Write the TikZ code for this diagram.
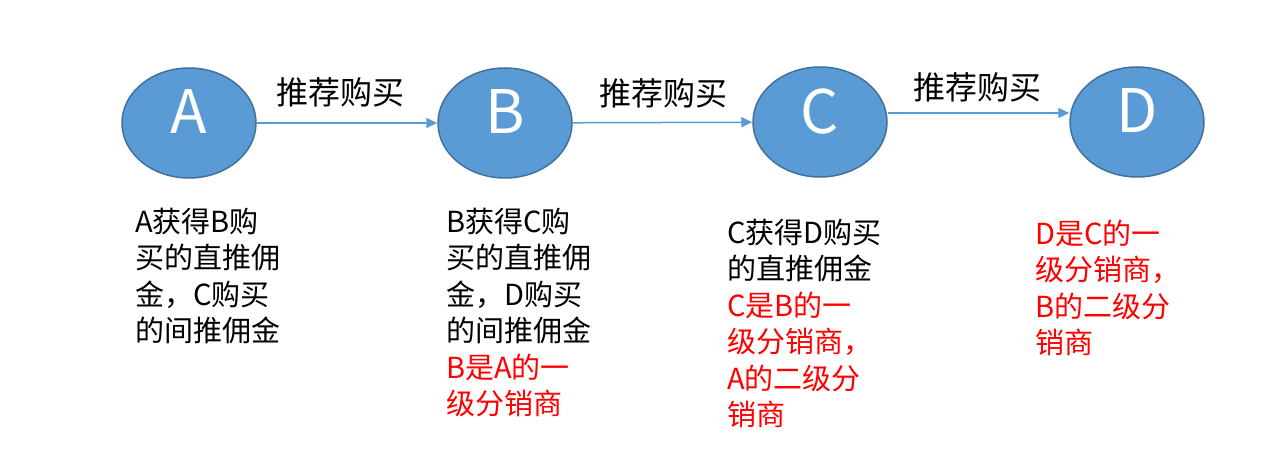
\documentclass[tikz,border=0pt]{standalone}
\usepackage{fontspec}
\setmainfont{Noto Sans CJK SC}
\usetikzlibrary{shapes.geometric,arrows.meta}
\definecolor{nodeblue}{HTML}{5B9BD5}
\definecolor{nodeedge}{HTML}{41719C}
\definecolor{redtxt}{HTML}{FF0000}
\newcommand{\firststrut}{\rule{0pt}{30pt}}
\tikzset{
  person/.style={ellipse, draw=nodeedge, line width=1.5pt, fill=nodeblue,
    minimum width=134pt, minimum height=110pt, inner sep=0pt,
    text=white, font=\fontsize{60}{60}\selectfont, text depth=22pt},
  link/.style={draw=nodeblue, line width=1.5pt, -{Triangle[length=11pt,width=10pt]}},
  linklabel/.style={font=\fontsize{32}{34}\selectfont, inner sep=0pt, text=black},
  desc/.style={anchor=north west, align=left, inner sep=0pt,
    font=\fontsize{29}{36.5}\selectfont, text=black},
}
\begin{document}
\begin{tikzpicture}[x=1pt,y=-1pt]
\useasboundingbox[fill=white] (0,0) rectangle (1280,470);
\node[person] (A) at (189,123) {A};
\node[person] (B) at (505,123) {B};
\node[person] (C) at (820,122) {C};
\node[person] (D) at (1137,122) {D};
\draw[link] (A) -- (B);
\draw[link] (B) -- (C);
\draw[link] ([yshift=9pt]C.east) -- ([yshift=9pt]D.west);
\node[linklabel] (l1) at (340,92) {推荐购买};
\node[linklabel] (l2) at (663,93) {推荐购买};
\node[linklabel] (l3) at (977,87) {推荐购买};
\node[desc] (ta) at (135,202) {\firststrut A获得B购\\买的直推佣\\金，C购买\\的间推佣金};
\node[desc] (tb) at (446,202) {\firststrut B获得C购\\买的直推佣\\金，D购买\\的间推佣金\\\textcolor{redtxt}{B是A的一}\\\textcolor{redtxt}{级分销商}};
\node[desc] (tc) at (727,213) {\firststrut C获得D购买\\的直推佣金\\\textcolor{redtxt}{C是B的一}\\\textcolor{redtxt}{级分销商，}\\\textcolor{redtxt}{A的二级分}\\\textcolor{redtxt}{销商}};
\node[desc, text=redtxt] (td) at (1035,214) {\firststrut D是C的一\\级分销商，\\B的二级分\\销商};
\end{tikzpicture}
\end{document}
